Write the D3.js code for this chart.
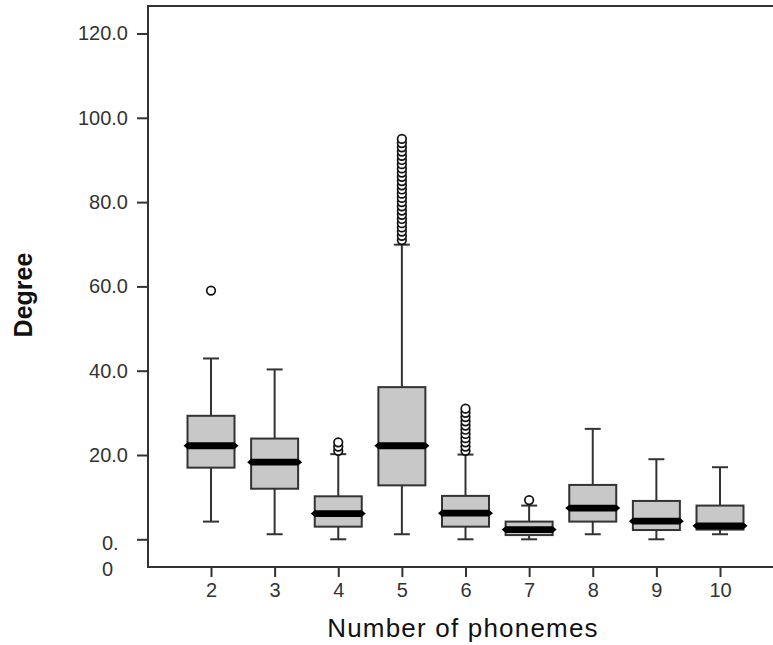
<!DOCTYPE html>
<html><head><meta charset="utf-8">
<script src="https://cdn.jsdelivr.net/npm/d3@7"></script>
<style>body{margin:0;background:#fff}</style>
</head><body>
<svg id="chart" width="773" height="645"></svg>
<script>
const categories = ["2","3","4","5","6","7","8","9","10"];
const q1Values = [17.0, 12.0, 3.0, 12.8, 3.0, 1.0, 4.2, 2.2, 2.3];
const medianValues = [22.2, 18.3, 6.1, 22.2, 6.2, 2.3, 7.4, 4.3, 3.2];
const q3Values = [29.3, 23.9, 10.2, 36.1, 10.3, 4.2, 12.9, 9.1, 8.0];
const whiskerLowValues = [4.2, 1.2, 0.0, 1.2, 0.0, 0.0, 1.2, 0.0, 1.2];
const whiskerHighValues = [42.9, 40.3, 20.2, 69.9, 20.1, 8.0, 26.2, 19.0, 17.1];
const outlierValues = [
  [59.0],
  [],
  [21, 22, 23],
  [71, 72, 73, 74, 75, 76, 77, 78, 79, 80, 81, 82, 83, 84, 85, 86, 87, 88, 89, 90, 91, 92, 93, 94, 95],
  [21, 22, 23, 24, 25, 26, 27, 28, 29, 30, 31],
  [9.3],
  [],
  [],
  []
];
const yTickValues = [0, 20, 40, 60, 80, 100, 120];
const yTickLabels = [["0.", "0"], ["20.0"], ["40.0"], ["60.0"], ["80.0"], ["100.0"], ["120.0"]];
const xTitle = "Number of phonemes";
const yTitle = "Degree";

const svg = d3.select("#chart");
const plot = {left: 148, top: 6, bottom: 567, right: 773};
const FONT = "'Liberation Sans', Arial, sans-serif";
const LINE = "#333";

const y = d3.scaleLinear().domain([0, 120]).range([539.3, 33.5]);
const x = d3.scalePoint().domain(categories).range([211, 720]);

// frame
svg.append("line").attr("x1", plot.left).attr("x2", plot.right).attr("y1", plot.top).attr("y2", plot.top)
  .attr("stroke", LINE).attr("stroke-width", 2);
svg.append("line").attr("x1", plot.left).attr("x2", plot.right).attr("y1", plot.bottom).attr("y2", plot.bottom)
  .attr("stroke", LINE).attr("stroke-width", 2);
svg.append("line").attr("x1", plot.left).attr("x2", plot.left).attr("y1", plot.top - 1).attr("y2", plot.bottom + 1)
  .attr("stroke", LINE).attr("stroke-width", 2);

// y axis
const yAxis = svg.append("g").attr("transform", `translate(${plot.left},0)`)
  .call(d3.axisLeft(y).tickValues(yTickValues).tickSize(11).tickPadding(9).tickFormat(""));
yAxis.select(".domain").remove();
yAxis.selectAll(".tick line").attr("stroke", LINE).attr("stroke-width", 2);
yAxis.selectAll(".tick").each(function(d, i) {
  const lines = yTickLabels[i];
  const t = d3.select(this).select("text")
    .attr("font-family", FONT).attr("font-size", 20).attr("fill", "#333");
  if (lines.length === 1) {
    t.text(lines[0]);
  } else {
    t.attr("text-anchor", "start").attr("x", -46).attr("dy", null);
    t.append("tspan").attr("x", -46).attr("dy", "0.5em").text(lines[0]);
    t.append("tspan").attr("x", -46).attr("dy", "1.3em").text(lines[1]);
  }
});

// x axis
const xAxis = svg.append("g").attr("transform", `translate(0,${plot.bottom})`)
  .call(d3.axisBottom(x).tickSize(10).tickPadding(6));
xAxis.select(".domain").remove();
xAxis.selectAll(".tick line").attr("stroke", LINE).attr("stroke-width", 2);
xAxis.selectAll(".tick text").attr("font-family", FONT).attr("font-size", 20).attr("fill", "#333");

// boxes
const boxW = 47, capW = 16;
const data = categories.map((c, i) => ({
  c, q1: q1Values[i], med: medianValues[i], q3: q3Values[i],
  lo: whiskerLowValues[i], hi: whiskerHighValues[i], out: outlierValues[i]
}));
const g = svg.append("g");
const box = g.selectAll("g.box").data(data).join("g").attr("class", "box");
box.append("line").attr("x1", d => x(d.c)).attr("x2", d => x(d.c))
  .attr("y1", d => y(d.q3)).attr("y2", d => y(d.hi)).attr("stroke", LINE).attr("stroke-width", 2);
box.append("line").attr("x1", d => x(d.c)).attr("x2", d => x(d.c))
  .attr("y1", d => y(d.q1)).attr("y2", d => y(d.lo)).attr("stroke", LINE).attr("stroke-width", 2);
box.append("line").attr("x1", d => x(d.c) - capW / 2).attr("x2", d => x(d.c) + capW / 2)
  .attr("y1", d => y(d.hi)).attr("y2", d => y(d.hi)).attr("stroke", LINE).attr("stroke-width", 2);
box.append("line").attr("x1", d => x(d.c) - capW / 2).attr("x2", d => x(d.c) + capW / 2)
  .attr("y1", d => y(d.lo)).attr("y2", d => y(d.lo)).attr("stroke", LINE).attr("stroke-width", 2);
box.append("rect").attr("x", d => x(d.c) - boxW / 2).attr("width", boxW)
  .attr("y", d => y(d.q3)).attr("height", d => y(d.q1) - y(d.q3))
  .attr("fill", "#c8c8c8").attr("stroke", LINE).attr("stroke-width", 2);
box.append("path").attr("d", d => {
  const cx = x(d.c), cy = y(d.med), l = cx - boxW / 2, r = cx + boxW / 2, h = 3.4;
  return `M${l - 4},${cy} L${l},${cy - h} L${r},${cy - h} L${r + 4},${cy} L${r},${cy + h} L${l},${cy + h} Z`;
}).attr("fill", "#000");
box.each(function(d) {
  d3.select(this).selectAll("circle").data(d.out).join("circle")
    .attr("cx", x(d.c)).attr("cy", v => y(v)).attr("r", 4.3)
    .attr("fill", "#fff").attr("stroke", "#111").attr("stroke-width", 1.7);
});

// titles
svg.append("text").attr("x", 463).attr("y", 637).attr("text-anchor", "middle")
  .attr("font-family", FONT).attr("font-size", 26).attr("letter-spacing", 1.2).attr("fill", "#111").text(xTitle);
svg.append("text").attr("transform", "translate(32,295) rotate(-90)").attr("text-anchor", "middle")
  .attr("font-family", FONT).attr("font-size", 25).attr("font-weight", "bold").attr("fill", "#111").text(yTitle);
</script>
</body></html>
